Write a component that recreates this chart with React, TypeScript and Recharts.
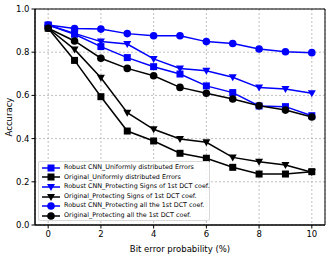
import { CartesianGrid, Line, LineChart, ReferenceArea, XAxis, YAxis } from "recharts";

const errorRates = [0, 1, 2, 3, 4, 5, 6, 7, 8, 9, 10];

const robustUniform = [0.926, 0.883, 0.826, 0.775, 0.733, 0.699, 0.644, 0.613, 0.551, 0.548, 0.506];
const originalUniform = [0.911, 0.762, 0.594, 0.435, 0.389, 0.332, 0.309, 0.267, 0.236, 0.236, 0.247];
const robustSigns = [0.926, 0.887, 0.849, 0.838, 0.769, 0.725, 0.714, 0.684, 0.636, 0.63, 0.61];
const originalSigns = [0.911, 0.813, 0.682, 0.52, 0.443, 0.398, 0.383, 0.313, 0.293, 0.278, 0.244];
const robustAll = [0.926, 0.91, 0.907, 0.886, 0.876, 0.876, 0.849, 0.84, 0.815, 0.802, 0.798];
const originalAll = [0.911, 0.852, 0.772, 0.725, 0.691, 0.637, 0.61, 0.583, 0.552, 0.532, 0.5];

const xTicks = [0, 2, 4, 6, 8, 10];
const yTicks = [0, 0.2, 0.4, 0.6, 0.8, 1.0];

const BLUE = "#0000ff";
const BLACK = "#000000";
const FONT = "DejaVu Sans";

type Shape = "square" | "triangle" | "circle";

const series: { key: string; name: string; color: string; shape: Shape; values: number[] }[] = [
    { key: "ru", name: "Robust CNN_Uniformly distributed Errors", color: BLUE, shape: "square", values: robustUniform },
    { key: "ou", name: "Original_Uniformly distributed Errors", color: BLACK, shape: "square", values: originalUniform },
    { key: "rs", name: "Robust CNN_Protecting Signs of 1st DCT coef.", color: BLUE, shape: "triangle", values: robustSigns },
    { key: "os", name: "Original_Protecting Signs of 1st DCT coef.", color: BLACK, shape: "triangle", values: originalSigns },
    { key: "ra", name: "Robust CNN_Protecting all the 1st DCT coef.", color: BLUE, shape: "circle", values: robustAll },
    { key: "oa", name: "Original_Protecting all the 1st DCT coef.", color: BLACK, shape: "circle", values: originalAll },
];

const data = errorRates.map((x, i) => {
    const row: Record<string, number> = { x };
    series.forEach(s => { row[s.key] = s.values[i]; });
    return row;
});

function Marker({ cx, cy, shape, color }: { cx: number, cy: number, shape: Shape, color: string }) {
    if (shape === "square") {
        return <rect x={cx - 3.5} y={cy - 3.5} width={7} height={7} fill={color} />;
    }
    if (shape === "triangle") {
        return <polygon points={`${cx - 4},${cy - 3} ${cx + 4},${cy - 3} ${cx},${cy + 4}`} fill={color} />;
    }
    return <circle cx={cx} cy={cy} r={3.8} fill={color} />;
}

function LegendBox() {
    return (
        <div style={{
            position: "absolute", left: 38, top: 161, width: 172, height: 60, boxSizing: "border-box",
            border: "1px solid #d8d8d8", borderRadius: 2, background: "rgba(255,255,255,0.85)",
            padding: "1px 3px", fontFamily: FONT, fontSize: 6.4, color: "#000", lineHeight: "9.6px",
        }}>
            {series.map(s => (
                <div key={s.key} style={{ display: "flex", alignItems: "center", whiteSpace: "nowrap", height: 9.6 }}>
                    <svg width={18} height={10} style={{ marginRight: 4, flexShrink: 0 }}>
                        <line x1={0} y1={5} x2={18} y2={5} stroke={s.color} strokeWidth={1.5} />
                        <Marker cx={9} cy={5} shape={s.shape} color={s.color} />
                    </svg>
                    {s.name}
                </div>
            ))}
        </div>
    );
}

export default function App() {
    return (
        <div style={{ position: "absolute", left: 0, top: 0, width: 332, height: 256 }}>
            <LineChart
                width={332}
                height={256}
                data={data}
                margin={{ top: 9, right: 7, bottom: 0, left: 0 }}
            >
                <CartesianGrid stroke="#b0b0b0" strokeDasharray="2 2" strokeWidth={0.8} />
                <XAxis
                    dataKey="x"
                    type="number"
                    domain={[-0.5, 10.5]}
                    ticks={xTicks}
                    tickSize={3.5}
                    height={31}
                    stroke="#000"
                    tick={{ fill: "#000", fontSize: 8.5, fontFamily: FONT }}
                    label={{ value: "Bit error probability (%)", position: "insideBottom", offset: 4, fill: "#000", fontSize: 8.5, fontFamily: FONT }}
                />
                <YAxis
                    type="number"
                    domain={[0, 1]}
                    ticks={yTicks}
                    tickSize={3.5}
                    width={35}
                    stroke="#000"
                    tickFormatter={(v: number) => v.toFixed(1)}
                    tick={{ fill: "#000", fontSize: 8.5, fontFamily: FONT }}
                    label={{ value: "Accuracy", angle: -90, position: "insideLeft", offset: 9, fill: "#000", fontSize: 8.5, fontFamily: FONT, style: { textAnchor: "middle" } }}
                />
                <ReferenceArea x1={-0.5} x2={10.5} y1={0} y2={1} fill="none" stroke="#000" strokeWidth={1} ifOverflow="visible" />
                {series.map(s => (
                    <Line
                        key={s.key}
                        dataKey={s.key}
                        name={s.name}
                        stroke={s.color}
                        strokeWidth={1.5}
                        isAnimationActive={false}
                        dot={(p: any) => <Marker key={`${s.key}-${p.index}`} cx={p.cx} cy={p.cy} shape={s.shape} color={s.color} />}
                        activeDot={false}
                    />
                ))}
            </LineChart>
            <LegendBox />
        </div>
    );
}
